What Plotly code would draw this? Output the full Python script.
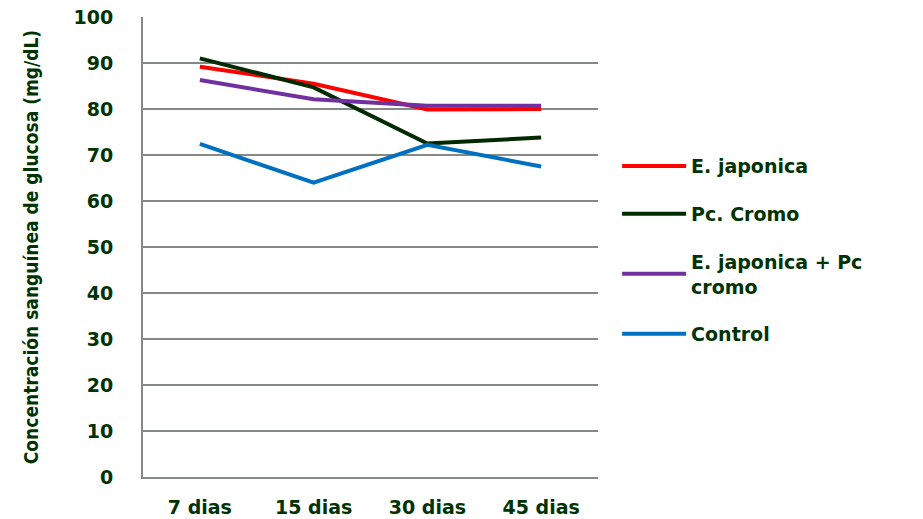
import plotly.graph_objects as go

categories = ["7 dias", "15 dias", "30 dias", "45 dias"]
e_japonica = [89.2, 85.5, 79.9, 80.0]
pc_cromo = [91.0, 84.7, 72.5, 73.8]
e_jap_pc = [86.3, 82.1, 80.7, 80.7]
control = [72.4, 64.0, 72.2, 67.5]
y_ticks = [0, 10, 20, 30, 40, 50, 60, 70, 80, 90, 100]

series = [
    ("E. japonica", e_japonica, "#FF0000"),
    ("Pc. Cromo", pc_cromo, "#002A00"),
    ("E. japonica + Pc<br>cromo", e_jap_pc, "#7030A0"),
    ("Control", control, "#0070C0"),
]

txt = "#003300"
grid = "#868A86"
tfont = "DejaVu Sans"

fig = go.Figure()
for i, (name, vals, col) in enumerate(series):
    fig.add_trace(go.Scatter(x=categories, y=vals, name=name, mode="lines",
                             line=dict(color=col, width=4), legendgroup=f"g{i}"))

fig.update_layout(
    width=923, height=519,
    margin=dict(l=143, r=325, t=17, b=42),
    paper_bgcolor="white", plot_bgcolor="white",
    font=dict(family=tfont, color=txt),
    showlegend=True,
    legend=dict(x=1.042, xanchor="left", y=0.717, yanchor="top",
                font=dict(size=19, family=tfont, color=txt, weight="bold"),
                tracegroupgap=20, itemwidth=64, traceorder="grouped",
                bgcolor="rgba(0,0,0,0)"),
)
fig.update_xaxes(type="category", range=[-0.5, 3.5], showgrid=False, showline=True,
                 linecolor=grid, linewidth=2, ticks="", ticklabelstandoff=12, automargin=False,
                 tickfont=dict(size=19, family=tfont, color=txt, weight="bold"))
fig.update_yaxes(range=[0, 100], tickvals=y_ticks, showgrid=True, gridcolor=grid, gridwidth=2,
                 showline=True, linecolor=grid, linewidth=2, zeroline=False, automargin=False,
                 ticks="", ticklabelstandoff=24,
                 tickfont=dict(size=19, family=tfont, color=txt, weight="bold"),
                 title=dict(text="Concentración sanguínea de glucosa (mg/dL)", standoff=30,
                            font=dict(size=19, family="DejaVu Sans Condensed", color=txt, weight="bold")))

fig.write_html("out.html")
